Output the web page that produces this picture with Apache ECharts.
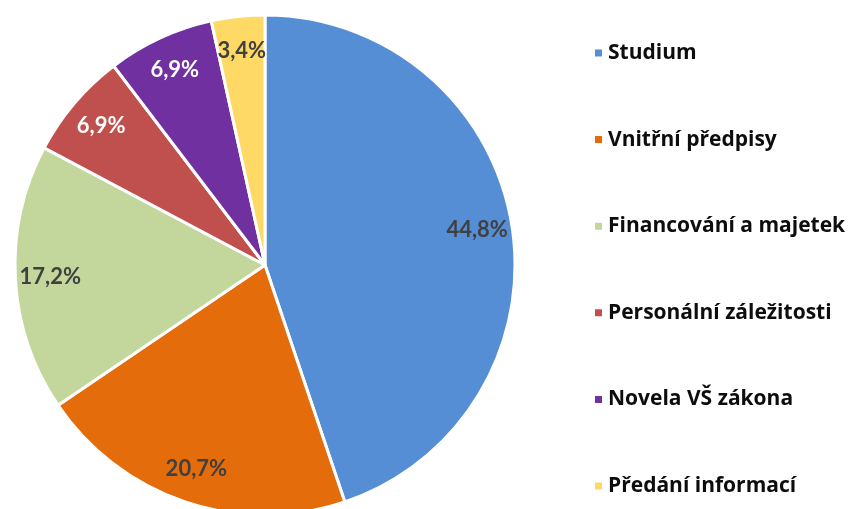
<!DOCTYPE html>
<html>
<head>
<meta charset="utf-8">
<script src="https://cdn.jsdelivr.net/npm/echarts@6/dist/echarts.min.js"></script>
<style>
  html, body { margin: 0; padding: 0; background: #fff; }
  #chart { width: 857px; height: 509px; }
</style>
</head>
<body>
<div id="chart"></div>
<script>
// categories and counts (share of 29 topics)
var categories = ['Studium', 'Vnitřní předpisy', 'Financování a majetek', 'Personální záležitosti', 'Novela VŠ zákona', 'Předání informací']
var counts = [13, 6, 5, 2, 2, 1]
var colors = ['#558ED5', '#E46C0A', '#C3D69B', '#C0504D', '#7030A0', '#FFD966']
var labelColors = ['#404040', '#404040', '#404040', '#ffffff', '#ffffff', '#404040']

var total = counts.reduce(function (a, b) { return a + b }, 0)

function fmt (v) {
  return (v / total * 100).toFixed(1).replace('.', ',') + '%'
}

var pieData = categories.map(function (name, i) {
  return { name: name, value: counts[i], itemStyle: { color: colors[i] } }
})

// transparent ring used only to place labels near the outer edge
var labelData = categories.map(function (name, i) {
  return {
    name: name,
    value: counts[i],
    itemStyle: { color: 'rgba(0,0,0,0)', borderWidth: 0 },
    label: { color: labelColors[i] }
  }
})

var chart = echarts.init(document.getElementById('chart'))
var option = {
  animation: false,
  legend: {
    orient: 'vertical',
    left: 588,
    top: 36,
    icon: 'rect',
    itemWidth: 9,
    itemHeight: 9,
    itemGap: 62.6,
    data: categories,
    textStyle: {
      fontFamily: 'Open Sans',
      fontWeight: 'bold',
      fontSize: 21,
      lineHeight: 24,
      color: '#0d0d0d'
    }
  },
  series: [
    {
      type: 'pie',
      center: [265, 265],
      radius: [0, 250],
      startAngle: 90,
      clockwise: true,
      label: { show: false },
      labelLine: { show: false },
      itemStyle: { borderColor: '#fff', borderWidth: 3 },
      emphasis: { disabled: true },
      data: pieData
    },
    {
      type: 'pie',
      silent: true,
      center: [265, 265],
      radius: [174, 250],
      startAngle: 90,
      clockwise: true,
      labelLine: { show: false },
      label: {
        show: true,
        position: 'inside',
        fontFamily: 'Lato',
        fontWeight: 'bold',
        fontSize: 22,
        formatter: function (p) { return fmt(p.value) }
      },
      emphasis: { disabled: true },
      data: labelData
    }
  ]
}
chart.setOption(option)
</script>
</body>
</html>
